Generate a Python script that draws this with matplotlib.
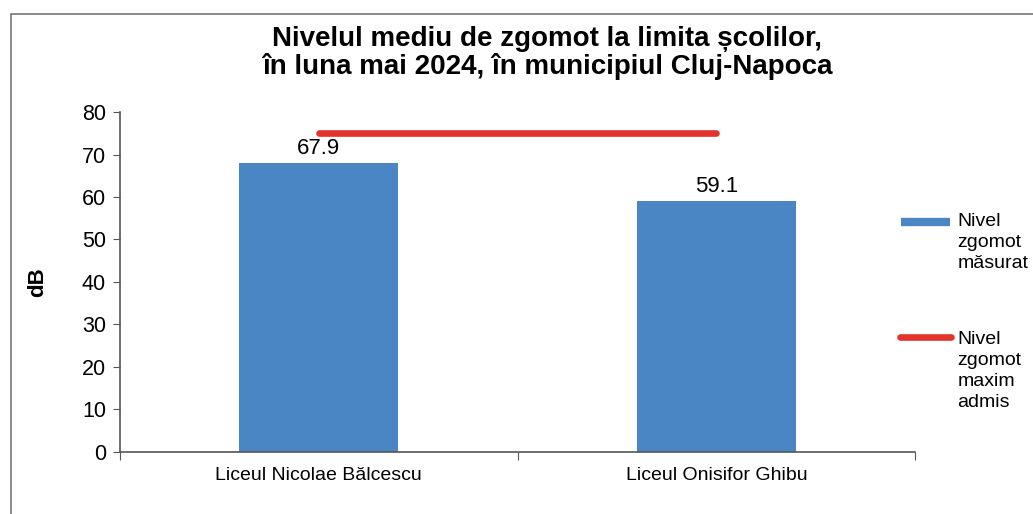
import matplotlib
matplotlib.use("Agg")
import matplotlib.pyplot as plt
from matplotlib.lines import Line2D
from matplotlib.patches import Rectangle

# date
scoli = ["Liceul Nicolae Bălcescu", "Liceul Onisifor Ghibu"]
nivel_masurat = [67.9, 59.1]
nivel_maxim = [75, 75]
y_ticks = [0, 10, 20, 30, 40, 50, 60, 70, 80]

plt.rcParams['font.family'] = ['Liberation Sans', 'DejaVu Sans']

albastru = '#4a86c4'
rosu = '#e2342d'

fig = plt.figure(figsize=(10.33, 5.14), dpi=100)
ax = fig.add_axes([0.116, 0.121, 0.77, 0.661])

x = list(range(len(scoli)))
ax.bar(x, nivel_masurat, width=0.4, color=albastru, zorder=2)
ax.plot(x, nivel_maxim, color=rosu, lw=4.8, solid_capstyle='round', zorder=3)

for xi, v in zip(x, nivel_masurat):
    ax.text(xi, v + 1.0, f"{v}", ha='center', va='bottom', fontsize=16)

ax.set_xlim(-0.5, 1.5)
ax.set_ylim(0, 80)
ax.set_yticks(y_ticks)
ax.tick_params(axis='y', labelsize=15.5, length=5, color='#555555', pad=5)

# tick-uri la granitele categoriilor, etichete la centre
ax.set_xticks([-0.5, 0.5, 1.5])
ax.set_xticklabels([])
ax.tick_params(axis='x', which='major', length=6, color='#555555')
ax.set_xticks(x, minor=True)
ax.set_xticklabels(scoli, minor=True, fontsize=14)
ax.tick_params(axis='x', which='minor', length=0, pad=11)

for s in ['top', 'right']:
    ax.spines[s].set_visible(False)
for s in ['left', 'bottom']:
    ax.spines[s].set_color('#555555')
    ax.spines[s].set_linewidth(1.2)

ax.set_ylabel("dB", fontsize=16, fontweight='bold', labelpad=24)

fig.text(0.53, 0.897, "Nivelul mediu de zgomot la limita școlilor,\nîn luna mai 2024, în municipiul Cluj-Napoca",
         ha='center', va='center', fontsize=20, fontweight='bold', linespacing=1.05)

# legenda desenata manual (handle aliniat cu primul rand)
fig.add_artist(Line2D([0.872, 0.92], [1 - 222 / 514] * 2, color=albastru, lw=6,
                      solid_capstyle='butt', transform=fig.transFigure))
fig.text(0.927, 1 - 213 / 514, "Nivel\nzgomot\nmăsurat", ha='left', va='top',
         fontsize=14, linespacing=1.3)
fig.add_artist(Line2D([0.871, 0.921], [1 - 337 / 514] * 2, color=rosu, lw=4.8,
                      solid_capstyle='round', transform=fig.transFigure))
fig.text(0.927, 1 - 331 / 514, "Nivel\nzgomot\nmaxim\nadmis", ha='left', va='top',
         fontsize=14, linespacing=1.3)

# chenar
fig.add_artist(Rectangle((11 / 1033, -0.1), 1.1, 1 - 14 / 514 + 0.1, fill=False,
                         edgecolor='#777777', lw=1.2, transform=fig.transFigure))

fig.savefig("out.png", dpi=100)
